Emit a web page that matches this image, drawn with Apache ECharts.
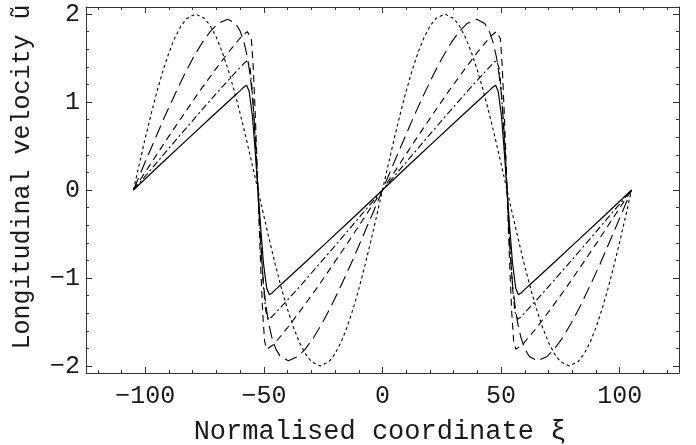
<!DOCTYPE html>
<html>
<head>
<meta charset="utf-8">
<script src="https://cdn.jsdelivr.net/npm/echarts@6/dist/echarts.min.js"></script>
<style>html,body{margin:0;padding:0;background:#fff}#c{width:696px;height:445px}</style>
</head>
<body>
<div id="c"></div>
<script>
// ---- tick values ----
const xMajor = [-100, -50, 0, 50, 100];
const xMinor = [-120,-110,-90,-80,-70,-60,-40,-30,-20,-10,10,20,30,40,60,70,80,90,110,120];
const yMajor = [-2, -1, 0, 1, 2];
const yMinor = [-1.8,-1.6,-1.4,-1.2,-0.8,-0.6,-0.4,-0.2,0.2,0.4,0.6,0.8,1.2,1.4,1.6,1.8];

// ---- curve 1: short-dotted ----
const dottedX = [-105,-102.5,-100,-97.5,-95,-92.5,-90,-87.5,-85,-82.5,-78.75,-75,-72.5,-70,-67.5,-65,-62.5,-60,-57.5,-55,-52.5,
  -50,-47.5,-45,-42.5,-40,-37.5,-35,-32.5,-30,-26.25,-22.5,-20,-17.5,-15,-12.5,-10,-7.5,-5,-2.5,0,
  2.5,5,7.5,10,12.5,15,17.5,20,22.5,26.25,30,32.5,35,37.5,40,42.5,45,47.5,50,52.5,
  55,57.5,60,62.5,65,67.5,70,72.5,75,78.75,82.5,85,87.5,90,92.5,95,97.5,100,102.5,105];
const dottedY = [0,0.298,0.59,0.868,1.127,1.36,1.564,1.732,1.862,1.95,2,1.95,1.862,1.732,1.564,1.36,1.127,0.868,0.59,0.298,0,
  -0.298,-0.59,-0.868,-1.127,-1.36,-1.564,-1.732,-1.862,-1.95,-2,-1.95,-1.862,-1.732,-1.564,-1.36,-1.127,-0.868,-0.59,-0.298,0,
  0.298,0.59,0.868,1.127,1.36,1.564,1.732,1.862,1.95,2,1.95,1.862,1.732,1.564,1.36,1.127,0.868,0.59,0.298,0,
  -0.298,-0.59,-0.868,-1.127,-1.36,-1.564,-1.732,-1.862,-1.95,-2,-1.95,-1.862,-1.732,-1.564,-1.36,-1.127,-0.868,-0.59,-0.298,0];

// ---- curve 2: long dashes ----
const longX = [-105,-100.5,-96,-91.7,-87.4,-83.4,-79.5,-75.9,-72.5,-69.4,-65.3,-61.9,-60,-58.4,-57,-55.9,-54.9,-54.2,-53.5,-53,-52.5,
  -52,-51.5,-50.8,-50.1,-49.1,-48,-46.6,-45,-43.1,-39.7,-35.6,-32.5,-29.1,-25.5,-21.6,-17.6,-13.3,-9,-4.5,0,
  4.5,9,13.3,17.6,21.6,25.5,29.1,32.5,35.6,39.7,43.1,45,46.6,48,49.1,50.1,50.8,51.5,52,52.5,
  53,53.5,54.2,54.9,55.9,57,58.4,60,61.9,65.3,69.4,72.5,75.9,79.5,83.4,87.4,91.7,96,100.5,105];
const longY = [0,0.289,0.572,0.842,1.093,1.319,1.517,1.68,1.806,1.892,1.94,1.892,1.806,1.68,1.517,1.319,1.093,0.842,0.572,0.289,0,
  -0.289,-0.572,-0.842,-1.093,-1.319,-1.517,-1.68,-1.806,-1.892,-1.94,-1.892,-1.806,-1.68,-1.517,-1.319,-1.093,-0.842,-0.572,-0.289,0,
  0.289,0.572,0.842,1.093,1.319,1.517,1.68,1.806,1.892,1.94,1.892,1.806,1.68,1.517,1.319,1.093,0.842,0.572,0.289,0,
  -0.289,-0.572,-0.842,-1.093,-1.319,-1.517,-1.68,-1.806,-1.892,-1.94,-1.892,-1.806,-1.68,-1.517,-1.319,-1.093,-0.842,-0.572,-0.289,0];

// ---- curve 3: medium dashes ----
const medX = [-105,-97.7,-90.6,-83.6,-77,-70.7,-65,-60.8,-58.8,-57,-56.2,-55.3,-54.5,-53.7,-53,-52.5,
  -52,-51.3,-50.5,-49.7,-48.8,-48,-46.2,-44.2,-40,-34.3,-28,-21.4,-14.4,-7.3,0,
  7.3,14.4,21.4,28,34.3,40,44.2,46.2,48,48.8,49.7,50.5,51.3,52,52.5,
  53,53.7,54.5,55.3,56.2,57,58.8,60.8,65,70.7,77,83.6,90.6,97.7,105];
const medY = [0,0.298,0.59,0.868,1.127,1.36,1.564,1.702,1.762,1.8,1.81,1.72,1.4,0.9,0.4,0,
  -0.4,-0.9,-1.4,-1.72,-1.81,-1.8,-1.762,-1.702,-1.564,-1.36,-1.127,-0.868,-0.59,-0.298,0,
  0.298,0.59,0.868,1.127,1.36,1.564,1.702,1.762,1.8,1.81,1.72,1.4,0.9,0.4,0,
  -0.4,-0.9,-1.4,-1.72,-1.81,-1.8,-1.762,-1.702,-1.564,-1.36,-1.127,-0.868,-0.59,-0.298,0];

// ---- curve 4: dash-dot ----
const dashDotX = [-105,-95.6,-86.4,-77.5,-69.1,-61.2,-58.2,-56.9,-55.8,-54.8,-53.7,-52.5,
  -51.3,-50.2,-49.2,-48.1,-46.8,-43.8,-35.9,-27.5,-18.6,-9.4,0,
  9.4,18.6,27.5,35.9,43.8,46.8,48.1,49.2,50.2,51.3,52.5,
  53.7,54.8,55.8,56.9,58.2,61.2,69.1,77.5,86.4,95.6,105];
const dashDotY = [0,0.298,0.59,0.868,1.127,1.36,1.446,1.47,1.38,1.1,0.6,0,
  -0.6,-1.1,-1.38,-1.47,-1.446,-1.36,-1.127,-0.868,-0.59,-0.298,0,
  0.298,0.59,0.868,1.127,1.36,1.446,1.47,1.38,1.1,0.6,0,
  -0.6,-1.1,-1.38,-1.47,-1.446,-1.36,-1.127,-0.868,-0.59,-0.298,0];

// ---- curve 5: solid ----
const solidX = [-105,-93.3,-81.7,-72.8,-64.2,-60.1,-58.4,-57.3,-56.2,-54.8,-53.7,-52.5,
  -51.3,-50.2,-48.8,-47.7,-46.6,-44.9,-40.8,-32.2,-23.3,-11.7,0,
  11.7,23.3,32.2,40.8,44.9,46.6,47.7,48.8,50.2,51.3,52.5,
  53.7,54.8,56.2,57.3,58.4,60.1,64.2,72.8,81.7,93.3,105];
const solidY = [0,0.298,0.59,0.813,1.026,1.127,1.17,1.19,1.12,0.83,0.45,0,
  -0.45,-0.83,-1.12,-1.19,-1.17,-1.127,-1.026,-0.813,-0.59,-0.298,0,
  0.298,0.59,0.813,1.026,1.127,1.17,1.19,1.12,0.83,0.45,0,
  -0.45,-0.83,-1.12,-1.19,-1.17,-1.127,-1.026,-0.813,-0.59,-0.298,0];

const xTitle = 'Normalised coordinate ξ';
const yTitle = 'Longitudinal velocity ũ';

const MONO = '"Liberation Mono","DejaVu Sans Mono",monospace';
const INK = '#1a1a1a';
const fmt = v => String(v).replace('-', '\u2212');
const zip = (xs, ys) => xs.map((x, i) => [x, ys[i]]);

function xAx(pos, ticks, len, labels, line) {
  return {
    type: 'value', position: pos, min: -125, max: 125, gridIndex: 0,
    axisLine: { show: line, onZero: false, lineStyle: { color: '#333', width: 1 } },
    axisTick: { show: true, inside: true, length: len, customValues: ticks, lineStyle: { color: '#333', width: 1 } },
    axisLabel: { show: labels, customValues: xMajor, formatter: fmt, margin: 11,
      fontFamily: MONO, fontSize: 25, color: INK },
    splitLine: { show: false }
  };
}
function yAx(pos, ticks, len, labels, line) {
  return {
    type: 'value', position: pos, min: -2.08, max: 2.08, gridIndex: 0,
    axisLine: { show: line, onZero: false, lineStyle: { color: '#333', width: 1 } },
    axisTick: { show: true, inside: true, length: len, customValues: ticks, lineStyle: { color: '#333', width: 1 } },
    axisLabel: { show: labels, customValues: yMajor, formatter: fmt, margin: 6,
      fontFamily: MONO, fontSize: 25, color: INK },
    splitLine: { show: false }
  };
}

function line(xs, ys, type, width) {
  return {
    type: 'line', data: zip(xs, ys), xAxisIndex: 0, yAxisIndex: 0,
    symbol: 'none', showSymbol: false, smooth: false,
    lineStyle: { color: '#000', width: width, type: type },
    emphasis: { disabled: true }
  };
}

const chart = echarts.init(document.getElementById('c'), null, { renderer: 'canvas' });
chart.setOption({
  animation: false,
  backgroundColor: '#fff',
  grid: { left: 86, right: 17, top: 7, bottom: 72, containLabel: false },
  xAxis: [
    xAx('bottom', xMajor, 6, true, true),
    xAx('bottom', xMinor, 3, false, false),
    xAx('top', xMajor, 6, false, true),
    xAx('top', xMinor, 3, false, false)
  ],
  yAxis: [
    yAx('left', yMajor, 6, true, true),
    yAx('left', yMinor, 3, false, false),
    yAx('right', yMajor, 6, false, true),
    yAx('right', yMinor, 3, false, false)
  ],
  series: [
    line(dottedX, dottedY, [3, 3], 1.1),
    line(longX, longY, [13, 6], 1.1),
    line(medX, medY, [7, 5], 1.1),
    line(dashDotX, dashDotY, [7, 3, 2, 3], 1.1),
    line(solidX, solidY, 'solid', 1.2)
  ],
  graphic: [
    { type: 'text', x: 380, y: 432,
      style: { text: xTitle, font: '27px ' + MONO, fill: INK, textAlign: 'center', textVerticalAlign: 'middle', align: 'center', verticalAlign: 'middle' } },
    { type: 'text', x: 22, y: 177, rotation: Math.PI / 2,
      style: { text: yTitle, font: '25px ' + MONO, fill: INK, textAlign: 'center', textVerticalAlign: 'middle', align: 'center', verticalAlign: 'middle' } }
  ]
});
</script>
</body>
</html>
